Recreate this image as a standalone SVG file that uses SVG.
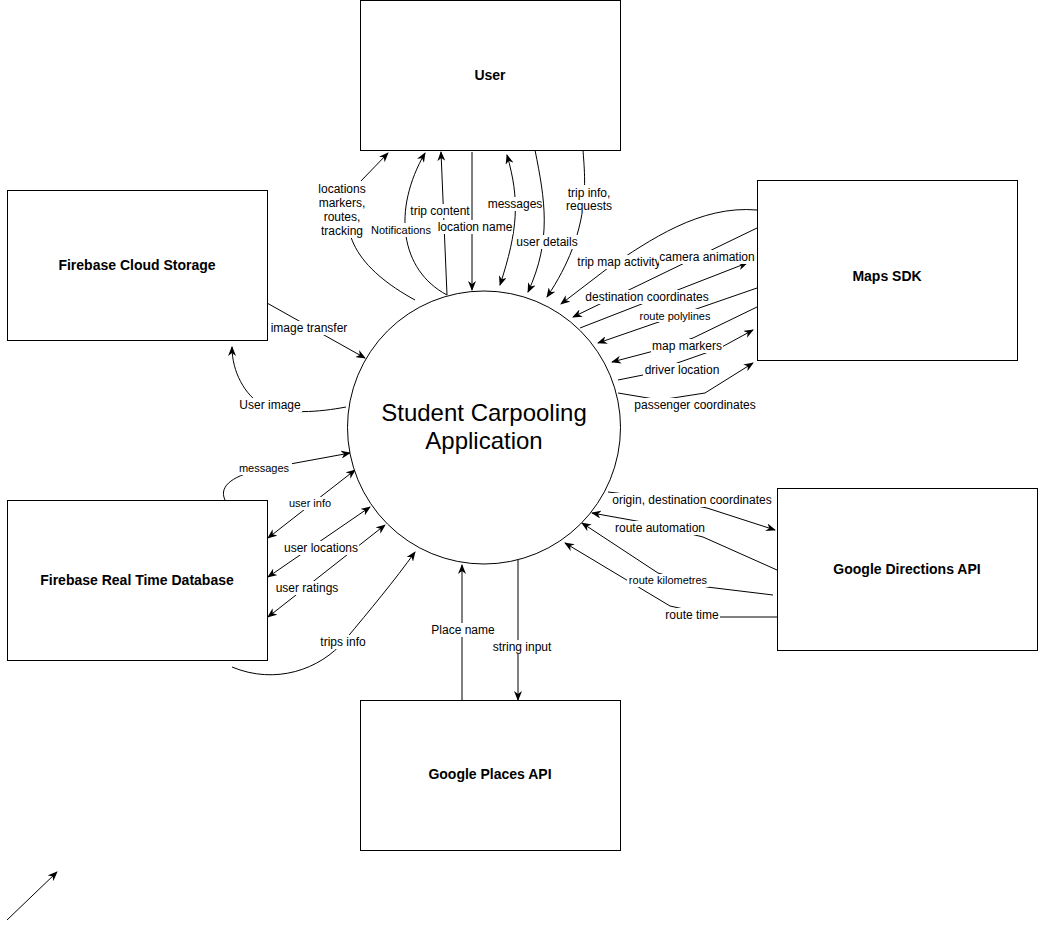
<svg xmlns="http://www.w3.org/2000/svg" width="1038" height="930" viewBox="0 0 1038 930">
<style>
.box{fill:#fff;stroke:#000;stroke-width:1}
.nl{font-family:"Liberation Sans",Arial,sans-serif;font-size:14px;font-weight:bold;text-anchor:middle;fill:#000}
.title{font-family:"Liberation Sans",Arial,sans-serif;font-size:24px;text-anchor:middle;fill:#000}
.e{fill:none;stroke:#000;stroke-width:1}
.ea{marker-end:url(#a)}
.eb{marker-start:url(#a);marker-end:url(#a)}
.lb{fill:#fff}
.l{font-family:"Liberation Sans",Arial,sans-serif;font-size:12px;text-anchor:middle;fill:#000}
.s{font-size:11px}
</style>
<defs>
<marker id="a" viewBox="0 0 10 8" refX="9" refY="4" markerWidth="10" markerHeight="8" markerUnits="userSpaceOnUse" orient="auto-start-reverse"><path d="M0,0 L10,4 L0,8 L3,4 z" fill="#000"/></marker>
</defs>
<rect width="1038" height="930" fill="#fff"/>

<g id="connectors">
<path class="e ea" d="M415,300 C360,270 330,230 360,182 L388,153"/>
<path class="e ea" d="M447,295 C400,270 392,210 425,153"/>
<path class="e ea" d="M447,295 L441,152"/>
<path class="e ea" d="M472,152 L472,290"/>
<path class="e eb" d="M507,155 C520,200 518,230 500,285"/>
<path class="e ea" d="M535,150 C545,200 552,240 528,292"/>
<path class="e ea" d="M583,150 C585,180 592,230 547,297"/>
<path class="e ea" d="M757,210 C700,205 650,240 608,268 L561,304"/>
<path class="e ea" d="M757,228 L573,317"/>
<path class="e ea" d="M580,328 L747,263"/>
<path class="e ea" d="M757,288 L598,343"/>
<path class="e ea" d="M757,307 L693,338 L650,352 L612,362"/>
<path class="e ea" d="M618,380 L643,375 L720,348 L753,330"/>
<path class="e ea" d="M618,393 L660,400 L705,393 L753,363"/>
<path class="e ea" d="M267,303 L365,358"/>
<path class="e ea" d="M346,407 C320,412 285,415 262,405 C245,395 232,372 232,347"/>
<path class="e ea" d="M225,500 C218,485 235,475 263,469 L350,453"/>
<path class="e eb" d="M268,538 L355,470"/>
<path class="e eb" d="M268,577 L370,507"/>
<path class="e eb" d="M268,617 L385,525"/>
<path class="e ea" d="M232,667 C275,685 320,670 345,640 S395,580 415,552"/>
<path class="e ea" d="M608,492 L650,497 L707,508 L775,530"/>
<path class="e ea" d="M777,570 L703,537 L642,522 L592,513"/>
<path class="e ea" d="M773,595 L707,587 L658,573 L582,523"/>
<path class="e ea" d="M777,617 L720,617 L670,606 L565,543"/>
<path class="e ea" d="M462,700 L462,565"/>
<path class="e ea" d="M518,560 L518,700"/>
<path class="e ea" d="M7,920 L57,872"/>
</g>

<g id="labels">
<rect class="lb" x="316" y="181" width="52" height="57"/>
<text class="l" x="342" y="193">locations</text>
<text class="l" x="342" y="207">markers,</text>
<text class="l" x="342" y="221">routes,</text>
<text class="l" x="342" y="235">tracking</text>
<rect class="lb" x="370" y="223" width="62" height="14"/>
<text class="l s" x="401" y="234">Notifications</text>
<rect class="lb" x="410" y="204" width="60" height="14"/>
<text class="l" x="440" y="215">trip content</text>
<rect class="lb" x="438" y="220" width="75" height="14"/>
<text class="l" x="475" y="231">location name</text>
<rect class="lb" x="490" y="197" width="50" height="14"/>
<text class="l" x="515" y="208">messages</text>
<rect class="lb" x="515" y="235" width="64" height="14"/>
<text class="l" x="547" y="246">user details</text>
<rect class="lb" x="566" y="185" width="46" height="28"/>
<text class="l" x="589" y="197">trip info,</text>
<text class="l" x="589" y="210">requests</text>
<rect class="lb" x="578" y="255" width="82" height="14"/>
<text class="l" x="619" y="266">trip map activity</text>
<rect class="lb" x="659" y="250" width="96" height="14"/>
<text class="l" x="707" y="261">camera animation</text>
<rect class="lb" x="584" y="290" width="126" height="14"/>
<text class="l" x="647" y="301">destination coordinates</text>
<rect class="lb" x="638" y="309" width="74" height="13"/>
<text class="l s" x="675" y="320">route polylines</text>
<rect class="lb" x="651" y="339" width="72" height="14"/>
<text class="l" x="687" y="350">map markers</text>
<rect class="lb" x="643" y="363" width="78" height="14"/>
<text class="l" x="682" y="374">driver location</text>
<rect class="lb" x="634" y="398" width="122" height="14"/>
<text class="l" x="695" y="409">passenger coordinates</text>
<rect class="lb" x="270" y="321" width="78" height="14"/>
<text class="l" x="309" y="332">image transfer</text>
<rect class="lb" x="238" y="398" width="64" height="14"/>
<text class="l" x="270" y="409">User image</text>
<rect class="lb" x="236" y="462" width="56" height="13"/>
<text class="l s" x="264" y="472">messages</text>
<rect class="lb" x="286" y="497" width="48" height="13"/>
<text class="l s" x="310" y="507">user info</text>
<rect class="lb" x="283" y="541" width="76" height="14"/>
<text class="l" x="321" y="552">user locations</text>
<rect class="lb" x="274" y="581" width="66" height="14"/>
<text class="l" x="307" y="592">user ratings</text>
<rect class="lb" x="319" y="635" width="48" height="14"/>
<text class="l" x="343" y="646">trips info</text>
<rect class="lb" x="611" y="493" width="162" height="14"/>
<text class="l" x="692" y="504">origin, destination coordinates</text>
<rect class="lb" x="614" y="521" width="92" height="14"/>
<text class="l" x="660" y="532">route automation</text>
<rect class="lb" x="627" y="574" width="82" height="13"/>
<text class="l s" x="668" y="584">route kilometres</text>
<rect class="lb" x="664" y="608" width="56" height="14"/>
<text class="l" x="692" y="619">route time</text>
<rect class="lb" x="431" y="623" width="64" height="14"/>
<text class="l" x="463" y="634">Place name</text>
<rect class="lb" x="491" y="640" width="62" height="14"/>
<text class="l" x="522" y="651">string input</text>
</g>

<g id="user"><rect class="box" x="360.5" y="0.5" width="260" height="150"/><text class="nl" x="490" y="80">User</text></g>
<g id="cloud-storage"><rect class="box" x="7.5" y="190.5" width="260" height="150"/><text class="nl" x="137" y="270">Firebase Cloud Storage</text></g>
<g id="maps-sdk"><rect class="box" x="757.5" y="180.5" width="260" height="180"/><text class="nl" x="887" y="281">Maps SDK</text></g>
<g id="directions"><rect class="box" x="777.5" y="488.5" width="260" height="162"/><text class="nl" x="907" y="574">Google Directions API</text></g>
<g id="rtdb"><rect class="box" x="7.5" y="500.5" width="260" height="160"/><text class="nl" x="137" y="585">Firebase Real Time Database</text></g>
<g id="places"><rect class="box" x="360.5" y="700.5" width="260" height="150"/><text class="nl" x="490" y="779">Google Places API</text></g>
<g id="app"><circle cx="484" cy="427.5" r="136.5" fill="#fff" stroke="#000" stroke-width="1"/>
<text class="title" x="484" y="421">Student Carpooling</text>
<text class="title" x="484" y="449">Application</text></g>
</svg>
